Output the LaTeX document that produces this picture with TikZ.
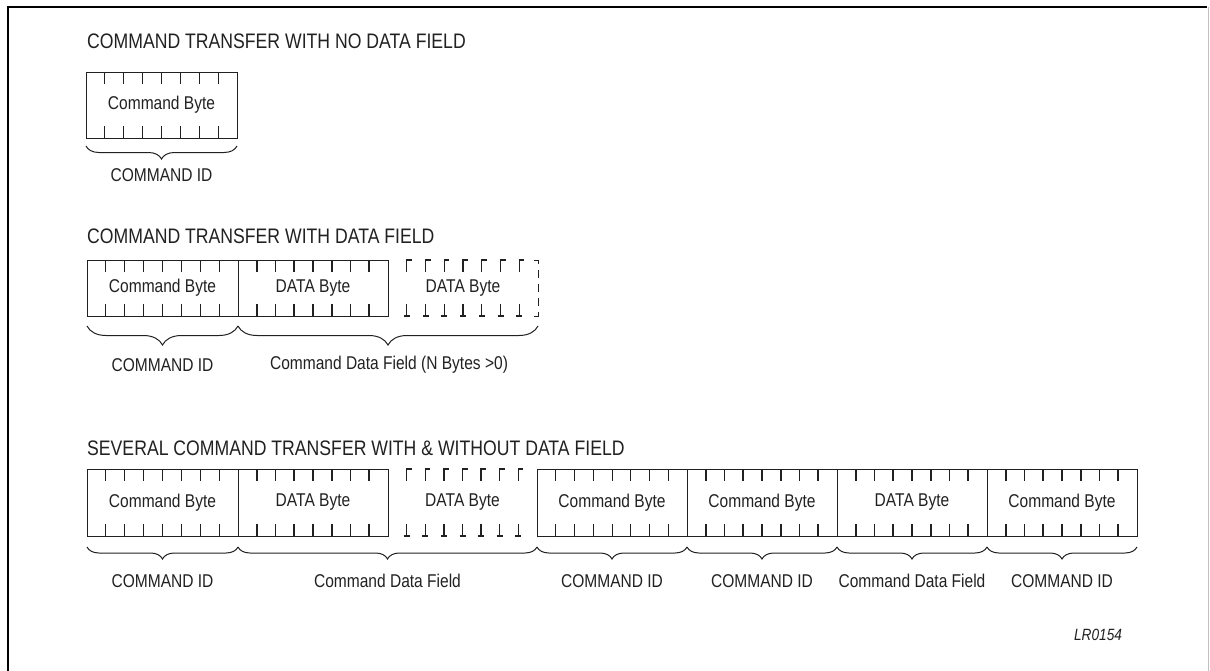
\documentclass[tikz,border=0pt]{standalone}
\usepackage{fontspec}
\setmainfont[FakeStretch=0.84]{Liberation Sans}
\usetikzlibrary{calc,decorations.pathreplacing}
\definecolor{ink}{rgb}{0.13,0.13,0.13}
\newcommand{\byteticks}[2]{%
  \foreach \k in {1,...,7} {
    \draw[#2] ($(#1.north west)!\k/8!(#1.north east)$) -- ++(0,12);
    \draw[#2] ($(#1.south west)!\k/8!(#1.south east)$) -- ++(0,-12);
  }}
\newcommand{\dashticks}[1]{%
  \foreach \k in {1,...,7} {
    \draw[dtick] ($(#1.north west)!\k/8!(#1.north east)$) ++(5,0) -- ++(-5,0) -- ++(0,12);
    \draw[dtick] ($(#1.south west)!\k/8!(#1.south east)$) ++(-3,0) -- ++(6,0);
    \draw[dtick] ($(#1.south west)!\k/8!(#1.south east)$) -- ++(0,-12);
  }}
\begin{document}
\begin{tikzpicture}[x=1pt,y=-1pt,
  bytebox/.style={draw=ink,line width=1pt,inner sep=0pt,outer sep=0pt,
    font=\fontsize{18.5}{21}\selectfont,text=ink},
  dbox/.style={draw=none,inner sep=0pt,outer sep=0pt,
    font=\fontsize{18.5}{21}\selectfont,text=ink},
  ctick/.style={ink,line width=0.9pt},
  btick/.style={ink,line width=1.6pt},
  dtick/.style={ink,line width=1.4pt},
  title/.style={anchor=base west,inner sep=0pt,font=\fontsize{21}{24}\selectfont,text=ink},
  lab/.style={inner sep=0pt,font=\fontsize{18.5}{21}\selectfont,text=ink},
  brc/.style={draw=ink,line width=1pt,decorate,decoration={brace,mirror,amplitude=#1}},
  brc/.default=12
]
\useasboundingbox (0,0) rectangle (1210,670);
% frame
\draw[black,line width=2.2pt] (8,690) -- (8,7) -- (1207,7);
\draw[black!25,line width=1pt] (1208,7) -- (1208,690);

% ---------- section 1
\node[title] (t1) at (87,48) {COMMAND TRANSFER WITH NO DATA FIELD};
\node[bytebox,minimum width=151pt,minimum height=66pt] (a1) at (161.5,105) {Command Byte};
\byteticks{a1}{ctick}
\draw[brc=13] ([yshift=-8pt]a1.south west) -- ([yshift=-8pt]a1.south east);
\node[lab] (la1) at (161.5,175) {COMMAND ID};

% ---------- section 2
\node[title] (t2) at (87,243) {COMMAND TRANSFER WITH DATA FIELD};
\node[bytebox,minimum width=151pt,minimum height=56pt] (b1) at (162.5,288) {Command Byte};
\node[bytebox,minimum width=150pt,minimum height=56pt] (b2) at (313,288) {DATA Byte};
\node[dbox,minimum width=150pt,minimum height=56pt] (b3) at (463,288) {DATA Byte};
\byteticks{b1}{ctick}
\byteticks{b2}{btick}
\dashticks{b3}
\draw[ink,line width=1pt,dash pattern=on 8pt off 6pt] ([xshift=-4pt]b3.north east) -- (b3.north east) -- (b3.south east) -- ([xshift=-4pt]b3.south east);
\draw[brc=19] ([yshift=-10pt]b1.south west) -- ([yshift=-10pt]b1.south east);
\draw[brc=19] ([yshift=-10pt]b2.south west) -- ([yshift=-10pt]b3.south east);
\node[lab] (lb1) at (162.5,365) {COMMAND ID};
\node[lab] (lb2) at (389,365) {Command Data Field (N Bytes >0)};

% ---------- section 3
\node[title] (t3) at (87,455) {SEVERAL COMMAND TRANSFER WITH \& WITHOUT DATA FIELD};
\node[bytebox,minimum width=151pt,minimum height=67pt] (c1) at (162.5,502.5) {Command Byte};
\node[bytebox,minimum width=150pt,minimum height=67pt] (c2) at (313,502.5) {DATA Byte};
\node[dbox,minimum width=149pt,minimum height=67pt] (c3) at (462.5,502.5) {DATA Byte};
\node[bytebox,minimum width=150pt,minimum height=67pt] (c4) at (612,502.5) {Command Byte};
\node[bytebox,minimum width=150pt,minimum height=67pt] (c5) at (762,502.5) {Command Byte};
\node[bytebox,minimum width=150pt,minimum height=67pt] (c6) at (912,502.5) {DATA Byte};
\node[bytebox,minimum width=150pt,minimum height=67pt] (c7) at (1062,502.5) {Command Byte};
\byteticks{c1}{ctick}
\byteticks{c2}{btick}
\dashticks{c3}
\byteticks{c4}{ctick}
\byteticks{c5}{btick}
\byteticks{c6}{btick}
\byteticks{c7}{btick}
\draw[brc=12] ([yshift=-11pt]c1.south west) -- ([yshift=-11pt]c1.south east);
\draw[brc=12] ([yshift=-11pt]c2.south west) -- ([yshift=-11pt]c3.south east);
\draw[brc=12] ([yshift=-11pt]c4.south west) -- ([yshift=-11pt]c4.south east);
\draw[brc=12] ([yshift=-11pt]c5.south west) -- ([yshift=-11pt]c5.south east);
\draw[brc=12] ([yshift=-11pt]c6.south west) -- ([yshift=-11pt]c6.south east);
\draw[brc=12] ([yshift=-11pt]c7.south west) -- ([yshift=-11pt]c7.south east);
\node[lab] (lc1) at (162.5,581) {COMMAND ID};
\node[lab] (lc2) at (387.5,581) {Command Data Field};
\node[lab] (lc4) at (612,581) {COMMAND ID};
\node[lab] (lc5) at (762,581) {COMMAND ID};
\node[lab] (lc6) at (912,581) {Command Data Field};
\node[lab] (lc7) at (1062,581) {COMMAND ID};

\node[inner sep=0pt,font=\fontsize{16.3}{18}\selectfont\itshape,text=ink] (lr) at (1098,635) {LR0154};
\end{tikzpicture}
\end{document}
